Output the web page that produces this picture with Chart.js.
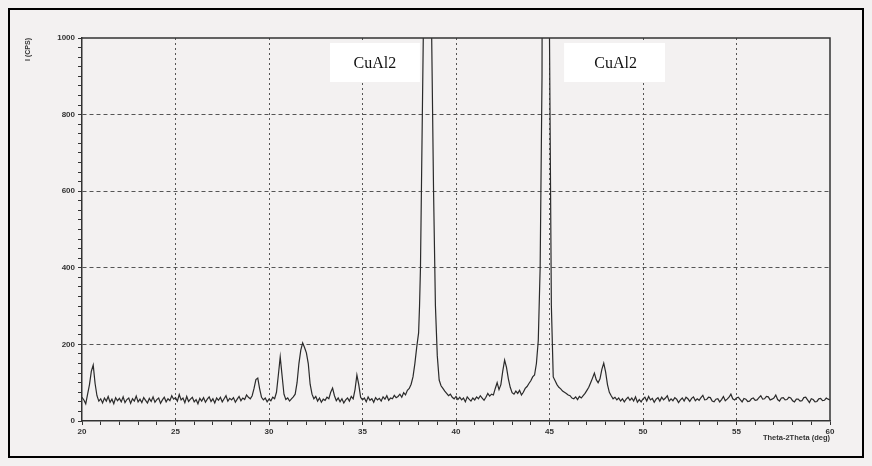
<!DOCTYPE html>
<html><head><meta charset="utf-8">
<script src="https://cdn.jsdelivr.net/npm/chart.js@4.4.0/dist/chart.umd.min.js"></script>
<style>
html,body{margin:0;padding:0;background:#f3f1f1;}
#wrap{position:relative;width:872px;height:466px;overflow:hidden;}
#frame{position:absolute;left:8px;top:8px;width:856px;height:450px;border:2px solid #000;box-sizing:border-box;pointer-events:none;}
</style></head><body>
<div id="wrap"><canvas id="c" width="872" height="466"></canvas><div id="frame"></div></div>
<script>
// 2-theta positions (deg)
const twoTheta = [
20.0,20.1,20.2,20.3,20.4,20.5,20.6,20.7,20.8,20.9,21.0,
21.1,21.2,21.3,21.4,21.5,21.6,21.7,21.8,21.9,22.0,
22.1,22.2,22.3,22.4,22.5,22.6,22.7,22.8,22.9,23.0,
23.1,23.2,23.3,23.4,23.5,23.6,23.7,23.8,23.9,24.0,
24.1,24.2,24.3,24.4,24.5,24.6,24.7,24.8,24.9,25.0,
25.1,25.2,25.3,25.4,25.5,25.6,25.7,25.8,25.9,26.0,
26.1,26.2,26.3,26.4,26.5,26.6,26.7,26.8,26.9,27.0,
27.1,27.2,27.3,27.4,27.5,27.6,27.7,27.8,27.9,28.0,
28.1,28.2,28.3,28.4,28.5,28.6,28.7,28.8,28.9,29.0,
29.1,29.2,29.3,29.4,29.5,29.6,29.7,29.8,29.9,30.0,
30.1,30.2,30.3,30.4,30.5,30.6,30.7,30.8,30.9,31.0,
31.1,31.2,31.3,31.4,31.5,31.6,31.7,31.8,31.9,32.0,
32.1,32.2,32.3,32.4,32.5,32.6,32.7,32.8,32.9,33.0,
33.1,33.2,33.3,33.4,33.5,33.6,33.7,33.8,33.9,34.0,
34.1,34.2,34.3,34.4,34.5,34.6,34.7,34.8,34.9,35.0,
35.1,35.2,35.3,35.4,35.5,35.6,35.7,35.8,35.9,36.0,
36.1,36.2,36.3,36.4,36.5,36.6,36.7,36.8,36.9,37.0,
37.1,37.2,37.3,37.4,37.5,37.6,37.7,37.8,37.9,38.0,
38.05,38.1,38.2,38.3,38.4,38.5,38.6,38.7,38.8,38.9,39.0,
39.1,39.2,39.3,39.4,39.5,39.6,39.7,39.8,39.9,40.0,
40.1,40.2,40.3,40.4,40.5,40.6,40.7,40.8,40.9,41.0,
41.1,41.2,41.3,41.4,41.5,41.6,41.7,41.8,41.9,42.0,
42.1,42.2,42.3,42.4,42.5,42.6,42.7,42.8,42.9,43.0,
43.1,43.2,43.3,43.4,43.5,43.6,43.7,43.8,43.9,44.0,
44.1,44.2,44.3,44.4,44.5,44.6,44.7,44.8,44.9,45.0,45.1,45.2,
45.3,45.4,45.5,45.6,45.7,45.8,45.9,46.0,
46.1,46.2,46.3,46.4,46.5,46.6,46.7,46.8,46.9,47.0,
47.1,47.2,47.3,47.4,47.5,47.6,47.7,47.8,47.9,48.0,
48.1,48.2,48.3,48.4,48.5,48.6,48.7,48.8,48.9,49.0,
49.1,49.2,49.3,49.4,49.5,49.6,49.7,49.8,49.9,50.0,
50.1,50.2,50.3,50.4,50.5,50.6,50.7,50.8,50.9,51.0,
51.1,51.2,51.3,51.4,51.5,51.6,51.7,51.8,51.9,52.0,
52.1,52.2,52.3,52.4,52.5,52.6,52.7,52.8,52.9,53.0,
53.1,53.2,53.3,53.4,53.5,53.6,53.7,53.8,53.9,54.0,
54.1,54.2,54.3,54.4,54.5,54.6,54.7,54.8,54.9,55.0,
55.1,55.2,55.3,55.4,55.5,55.6,55.7,55.8,55.9,56.0,
56.1,56.2,56.3,56.4,56.5,56.6,56.7,56.8,56.9,57.0,
57.1,57.2,57.3,57.4,57.5,57.6,57.7,57.8,57.9,58.0,
58.1,58.2,58.3,58.4,58.5,58.6,58.7,58.8,58.9,59.0,
59.1,59.2,59.3,59.4,59.5,59.6,59.7,59.8,59.9,60.0
];
// intensity (counts per second)
const counts = [
62,55,45,70,95,130,146,98,66,52,58,
47,60,52,64,49,57,45,61,53,59,
50,63,48,56,60,46,58,52,65,50,
57,48,61,54,47,59,51,63,49,56,
60,46,55,62,50,58,53,66,57,61,
52,69,55,60,48,64,51,57,62,50,
56,45,59,52,61,49,57,63,51,58,
47,60,54,62,50,58,66,52,59,55,
61,49,57,64,53,60,56,68,62,58,
66,85,108,112,84,62,55,60,50,57,
53,62,58,75,120,167,118,70,56,60,
52,58,63,70,100,150,185,204,192,178,
150,96,70,58,64,52,60,49,57,54,
62,58,75,86,66,53,60,50,58,47,
55,60,52,64,58,82,120,95,62,55,
60,50,63,54,58,49,61,55,59,52,
63,57,66,54,60,58,67,61,64,70,
62,74,68,80,85,96,115,150,193,230,
300,400,800,1200,3000,4000,2500,1000,600,300,170,
107,92,85,78,72,66,70,62,58,64,
56,62,55,60,50,63,57,52,60,55,
63,58,66,60,54,62,72,65,70,68,
85,100,82,95,130,159,140,110,88,74,
70,78,72,80,68,75,85,90,98,105,
115,120,150,210,400,900,3500,4000,3000,1000,300,115,
105,95,88,84,78,75,72,68,
66,60,58,63,56,64,60,66,72,80,
88,100,112,125,108,100,110,135,151,128,
95,75,66,58,62,55,60,52,58,50,
57,62,54,60,52,63,49,56,50,58,
62,52,64,55,59,49,57,61,52,62,
55,60,66,52,58,53,61,57,48,55,
60,52,62,58,51,59,63,53,58,54,
61,67,55,56,62,61,52,50,57,58,
50,56,64,53,57,62,70,58,55,60,
62,56,50,59,57,51,52,58,60,54,
55,61,66,57,58,64,63,55,57,60,
68,56,52,60,61,55,56,62,60,53,
50,57,57,52,53,61,62,55,48,58,
56,50,51,58,59,53,54,60,57,55
];
const xMajorTicks = [20,25,30,35,40,45,50,55,60];
const yMajorTicks = [0,200,400,600,800,1000];
const peakLabels = ['CuAl2','CuAl2'];

const tickFont = {family:'Liberation Sans', size:8, weight:'bold'};

const decor = {
  id:'decor',
  afterDatasetsDraw(chart){
    const ctx = chart.ctx, a = chart.chartArea, xs = chart.scales.x;
    const boxes = [[33.26,38.07],[45.78,51.18]];
    ctx.save();
    boxes.forEach((b,i)=>{
      const l = xs.getPixelForValue(b[0]), r = xs.getPixelForValue(b[1]);
      const t = a.top + 5, h = 39;
      ctx.fillStyle = '#ffffff';
      ctx.fillRect(l, t, r-l, h);
      ctx.fillStyle = '#111';
      ctx.font = '16px "Liberation Serif"';
      ctx.textAlign = 'center';
      ctx.textBaseline = 'middle';
      ctx.fillText(peakLabels[i], (l+r)/2 + (i===1?1:0), t + h/2 + 1);
    });
    ctx.strokeStyle = '#333';
    ctx.lineWidth = 1.5;
    ctx.beginPath();
    ctx.moveTo(a.left, a.top); ctx.lineTo(a.right, a.top); ctx.lineTo(a.right, a.bottom);
    ctx.stroke();
    ctx.restore();
  }
};

new Chart(document.getElementById('c'), {
  type:'line',
  data:{
    labels: twoTheta,
    datasets:[{
      data: twoTheta.map((t,i)=>({x:t, y:counts[i]})),
      borderColor:'#2a2a2a', borderWidth:1.2, pointRadius:0, tension:0, fill:false
    }]
  },
  options:{
    responsive:false, animation:false, devicePixelRatio:1,
    layout:{padding:{top:38,right:42,left:0,bottom:0}},
    plugins:{legend:{display:false}, tooltip:{enabled:false}},
    scales:{
      x:{
        type:'linear', min:20, max:60,
        afterFit(s){ s.height = 45; },
        ticks:{stepSize:1, autoSkip:false, maxRotation:0, color:'#333', font:tickFont, padding:2,
          callback:v=> xMajorTicks.includes(v) ? String(v) : ''},
        grid:{color:c=> (xMajorTicks.includes(c.tick.value) && c.tick.value!==20 && c.tick.value!==60) ? '#555' : 'rgba(0,0,0,0)',
          tickColor:'#333', tickLength:4, lineWidth:1},
        border:{color:'#333', width:1.5, dash:[2,3]},
        title:{display:true, text:'Theta-2Theta (deg)', align:'end', color:'#333',
          font:{family:'Liberation Sans', size:7.5, weight:'bold'}, padding:{top:0,bottom:24}}
      },
      y:{
        min:0, max:1000,
        afterFit(s){ s.width = 82; },
        ticks:{stepSize:25, autoSkip:false, color:'#333', font:tickFont, padding:3,
          callback:v=> yMajorTicks.includes(v) ? String(v) : ''},
        grid:{color:c=> (yMajorTicks.includes(c.tick.value) && c.tick.value!==0 && c.tick.value!==1000) ? '#555' : 'rgba(0,0,0,0)',
          tickColor:'#333', tickLength:4, lineWidth:1},
        border:{color:'#333', width:1.5, dash:[4,3]},
        title:{display:true, text:'I (CPS)', align:'end', color:'#333',
          font:{family:'Liberation Sans', size:7, weight:'bold'}, padding:{top:24,bottom:0}}
      }
    }
  },
  plugins:[decor]
});
</script>
</body></html>
